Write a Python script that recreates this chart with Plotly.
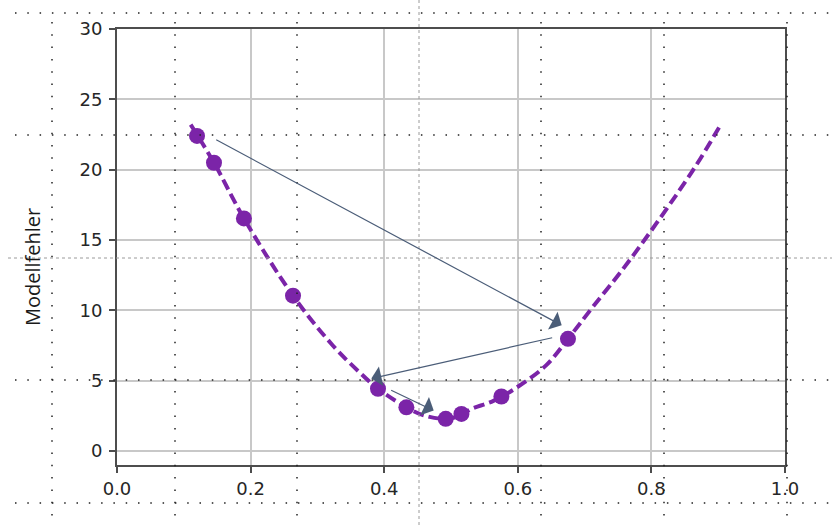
import plotly.graph_objects as go

# Sampled model error (Modellfehler) along the parameter axis
curve_x = [0.1103, 0.1452, 0.190, 0.2635, 0.3234, 0.3633, 0.3907,
           0.4332, 0.458, 0.4921, 0.5156, 0.5293, 0.5635, 0.6028, 0.6427, 0.6751,
           0.7117, 0.7665, 0.8614, 0.9037]
curve_y = [23.2, 20.49, 16.53, 11.04, 7.48, 5.58, 4.42,
           3.10, 2.55, 2.28, 2.55, 2.96, 3.56, 4.65, 6.10, 7.97,
           10.2, 13.5, 19.9, 23.2]

# Evaluated points of the search
point_x = [0.1198, 0.1452, 0.190, 0.2635, 0.3907, 0.4332, 0.4921, 0.5156, 0.5754, 0.6751]
point_y = [22.40, 20.49, 16.53, 11.04, 4.42, 3.10, 2.28, 2.63, 3.87, 7.97]

# Step arrows: tail (x0, y0) -> head (x1, y1)
arrow_x0 = [0.1463, 0.6537, 0.4082]
arrow_y0 = [22.18, 8.07, 4.37]
arrow_x1 = [0.6657, 0.3807, 0.4741]
arrow_y1 = [8.93, 5.15, 2.87]

x_ticks = [0.0, 0.2, 0.4, 0.6, 0.8, 1.0]
x_tick_text = ["0.0", "0.2", "0.4", "0.6", "0.8", "1.0"]
y_ticks = [0, 5, 10, 15, 20, 25, 30]

PURPLE = "#7b24a8"
SLATE = "#4b5d78"
AXIS = "#4d4d4d"

W, H = 832, 525
ML, MR, MT, MB = 117, 47, 29, 60

fig = go.Figure()

fig.add_trace(go.Scatter(
    x=curve_x, y=curve_y, mode="lines",
    line=dict(color=PURPLE, width=4, dash="11px,5px", shape="spline", smoothing=1.0),
    hoverinfo="skip", showlegend=False,
))
fig.add_trace(go.Scatter(
    x=point_x, y=point_y, mode="markers",
    marker=dict(color=PURPLE, size=16, line=dict(width=0)),
    showlegend=False,
))

annotations = []
for x0, y0, x1, y1 in zip(arrow_x0, arrow_y0, arrow_x1, arrow_y1):
    annotations.append(dict(
        x=x1, y=y1, ax=x0, ay=y0, xref="x", yref="y", axref="x", ayref="y",
        text="", showarrow=True, arrowhead=1, arrowsize=2.8, arrowwidth=1.2,
        arrowcolor=SLATE, standoff=0, startstandoff=0,
    ))

plot_w = W - ML - MR
plot_h = H - MT - MB


def px_x(p):
    return (p - ML) / plot_w


def px_y(p):
    return (H - MB - p) / plot_h


# y-axis title
annotations.append(dict(
    text="Modellfehler", x=px_x(32.5), y=px_y(266.5), xref="paper", yref="paper",
    showarrow=False, textangle=-90, xanchor="center", yanchor="middle",
    font=dict(family="Open Sans", size=20, color="#1a1a1a"),
))

# layout guide lines drawn across the whole canvas
guide_v_dot = [52, 175, 297, 541, 664, 787]
guide_h_dot = [13, 135, 380, 503]
shapes = []
for gx in guide_v_dot:
    shapes.append(dict(type="line", xref="paper", yref="paper",
                       x0=px_x(gx), x1=px_x(gx), y0=px_y(22), y1=px_y(522),
                       line=dict(color="#222", width=1.5, dash="1.5px,10.8px"),
                       layer="above"))
for gy in guide_h_dot:
    shapes.append(dict(type="line", xref="paper", yref="paper",
                       x0=px_x(15), x1=px_x(832), y0=px_y(gy), y1=px_y(gy),
                       line=dict(color="#222", width=1.5, dash="1.5px,10.8px"),
                       layer="above"))
shapes.append(dict(type="line", xref="paper", yref="paper",
                   x0=px_x(419), x1=px_x(419), y0=px_y(0), y1=px_y(525),
                   line=dict(color="#9a9a9a", width=1, dash="3px,3px"), layer="above"))
shapes.append(dict(type="line", xref="paper", yref="paper",
                   x0=px_x(8), x1=px_x(832), y0=px_y(258), y1=px_y(258),
                   line=dict(color="#9a9a9a", width=1, dash="3px,3px"), layer="above"))

tick_font = dict(family="DejaVu Sans", size=18, color="#262626")

fig.update_layout(
    width=W, height=H,
    margin=dict(l=ML, r=MR, t=MT, b=MB, pad=0),
    paper_bgcolor="white", plot_bgcolor="white",
    annotations=annotations, shapes=shapes,
    xaxis=dict(range=[0, 1], tickvals=x_ticks, ticktext=x_tick_text,
               showgrid=True, gridcolor="#c8c8c8", gridwidth=2,
               showline=True, linecolor=AXIS, linewidth=2, mirror=True,
               ticks="outside", ticklen=6, tickwidth=1.5, tickcolor=AXIS,
               tickfont=tick_font, zeroline=False),
    yaxis=dict(range=[-1, 30], tickvals=y_ticks,
               showgrid=True, gridcolor="#c8c8c8", gridwidth=2,
               showline=True, linecolor=AXIS, linewidth=2, mirror=True,
               ticks="outside", ticklen=6, tickwidth=1.5, tickcolor=AXIS,
               tickfont=tick_font, zeroline=False, ticklabelstandoff=3),
)

fig.write_html("out.html")
